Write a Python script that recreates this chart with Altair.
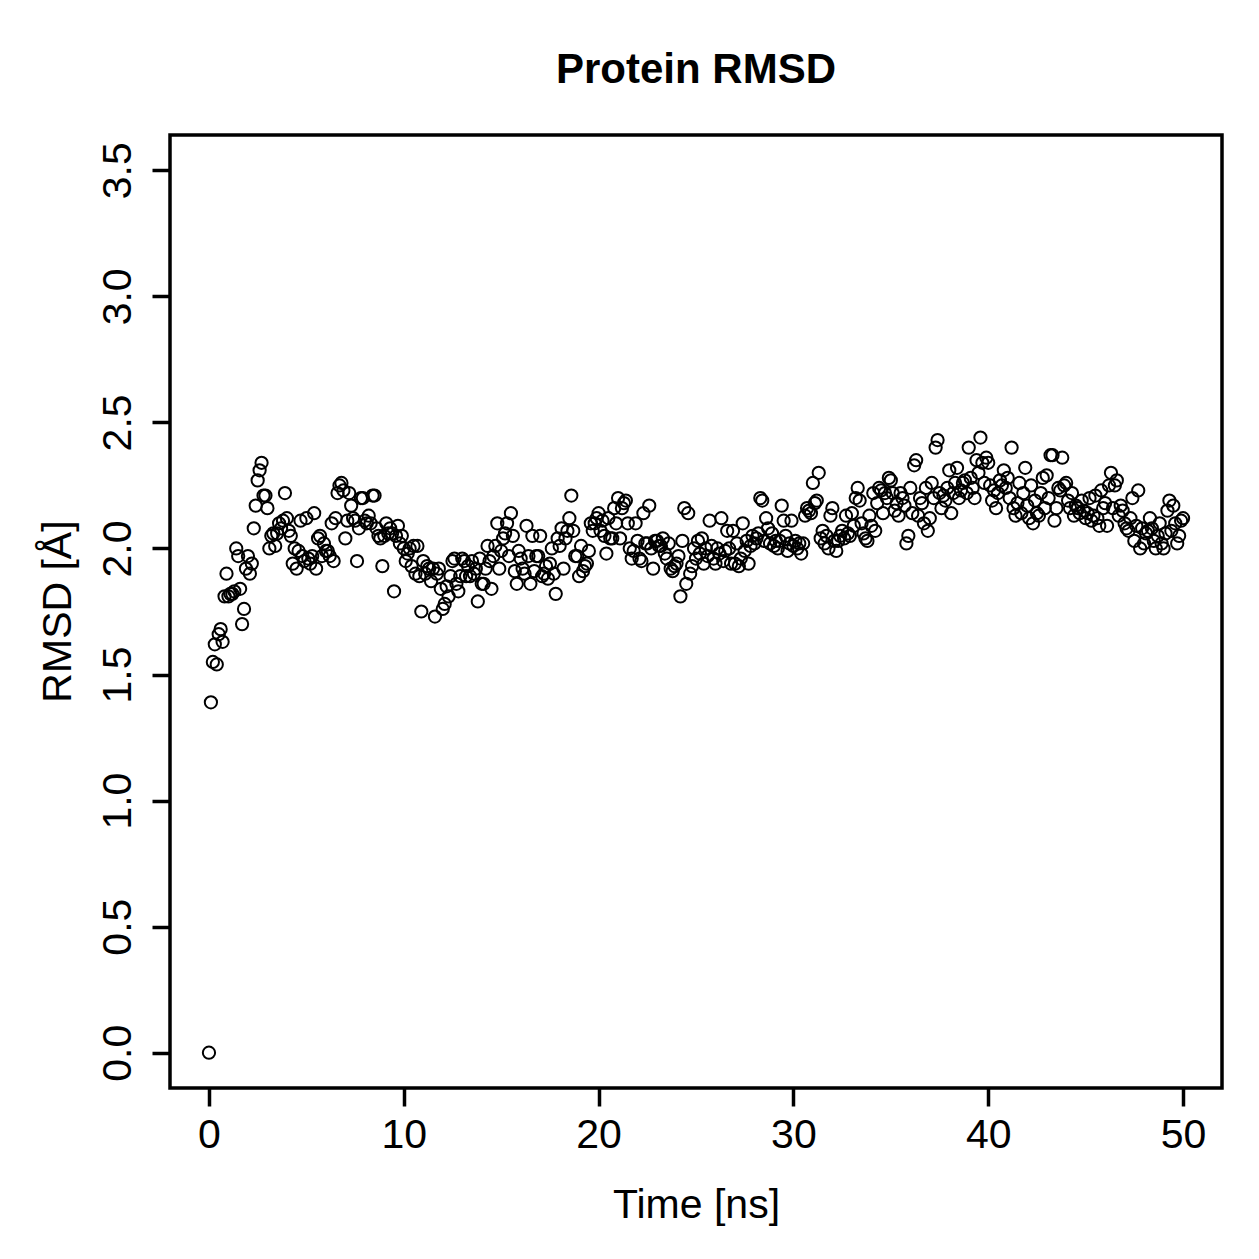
import altair as alt
import pandas as pd

rmsd_00_10 = [
    0.00, 1.39, 1.55, 1.62, 1.54, 1.66, 1.68, 1.63, 1.81, 1.90,
    1.81, 1.82, 1.82, 1.83, 2.00, 1.97, 1.84, 1.70, 1.76, 1.92,
    1.97, 1.90, 1.94, 2.08, 2.17, 2.27, 2.31, 2.34, 2.21, 2.21,
    2.16, 2.00, 2.05, 2.06, 2.01, 2.06, 2.10, 2.08, 2.11, 2.22,
    2.12, 2.07, 2.05, 1.94, 2.00, 1.92, 1.99, 2.11, 1.97, 1.95,
    2.12, 1.96, 1.94, 1.97, 2.14, 1.92, 2.04, 2.05, 1.97, 2.02,
    1.99, 1.99, 1.97, 2.10, 1.95, 2.12, 2.22, 2.25, 2.26, 2.23,
    2.04, 2.11, 2.22, 2.17, 2.12, 2.11, 1.95, 2.08, 2.20, 2.20,
    2.11, 2.10, 2.13, 2.10, 2.21, 2.21, 2.08, 2.05, 2.04, 1.93,
    2.05, 2.10, 2.06, 2.08, 2.06, 1.83, 2.05, 2.09, 2.02, 2.05,
]
rmsd_10_20 = [
    2.00, 1.95, 1.98, 2.00, 1.93, 2.01, 1.90, 2.01, 1.89, 1.75,
    1.95, 1.90, 1.93, 1.92, 1.87, 1.92, 1.73, 1.90, 1.92, 1.84,
    1.76, 1.78, 1.85, 1.81, 1.89, 1.95, 1.96, 1.86, 1.83, 1.89,
    1.96, 1.95, 1.89, 1.93, 1.89, 1.95, 1.90, 1.92, 1.79, 1.96,
    1.86, 1.86, 1.92, 2.01, 1.95, 1.84, 1.97, 2.01, 2.10, 1.92,
    1.99, 2.04, 2.06, 2.10, 1.97, 2.14, 2.05, 1.91, 1.86, 1.99,
    1.96, 1.92, 1.90, 2.09, 1.97, 1.86, 2.05, 1.91, 1.97, 1.97,
    2.05, 1.89, 1.90, 1.93, 1.88, 1.94, 2.00, 1.90, 1.82, 2.04,
    2.01, 2.08, 1.92, 2.04, 2.07, 2.12, 2.21, 2.07, 1.97, 1.97,
    1.89, 2.01, 1.91, 1.93, 1.94, 1.99, 2.10, 2.07, 2.10, 2.12,
]
rmsd_20_30 = [
    2.14, 2.07, 2.11, 2.05, 1.98, 2.12, 2.04, 2.04, 2.16, 2.10,
    2.20, 2.04, 2.16, 2.18, 2.19, 2.10, 2.00, 1.96, 1.99, 2.10,
    2.03, 1.96, 1.95, 2.14, 2.02, 2.02, 2.17, 2.00, 1.92, 2.03,
    2.03, 2.01, 2.01, 2.04, 1.98, 1.96, 2.02, 1.92, 1.91, 1.93,
    1.94, 1.97, 1.81, 2.03, 2.16, 1.86, 2.14, 1.90, 1.93, 2.00,
    1.96, 2.03, 1.98, 2.04, 1.94, 2.00, 1.97, 2.11, 2.01, 1.96,
    1.94, 2.00, 1.98, 2.12, 1.95, 1.99, 2.07, 2.00, 1.94, 2.07,
    1.94, 2.02, 1.93, 1.96, 2.10, 1.99, 2.03, 1.94, 2.01, 2.05,
    2.02, 2.04, 2.06, 2.20, 2.19, 2.03, 2.12, 2.08, 2.02, 2.06,
    2.01, 2.03, 2.00, 2.03, 2.17, 2.11, 2.05, 1.99, 2.02, 2.11,
]
rmsd_30_40 = [
    2.01, 2.03, 2.00, 2.02, 1.98, 2.02, 2.13, 2.16, 2.15, 2.14,
    2.26, 2.18, 2.19, 2.30, 2.04, 2.07, 2.02, 2.05, 2.00, 2.13,
    2.16, 2.03, 1.99, 2.03, 2.05, 2.07, 2.04, 2.13, 2.06, 2.05,
    2.14, 2.09, 2.20, 2.24, 2.19, 2.10, 2.06, 2.04, 2.03, 2.13,
    2.09, 2.22, 2.07, 2.18, 2.24, 2.23, 2.14, 2.22, 2.20, 2.28,
    2.27, 2.22, 2.15, 2.18, 2.13, 2.22, 2.20, 2.17, 2.02, 2.05,
    2.24, 2.14, 2.33, 2.35, 2.13, 2.20, 2.18, 2.10, 2.24, 2.07,
    2.12, 2.26, 2.20, 2.40, 2.43, 2.22, 2.16, 2.21, 2.19, 2.24,
    2.31, 2.14, 2.22, 2.26, 2.32, 2.20, 2.23, 2.26, 2.27, 2.22,
    2.40, 2.28, 2.24, 2.20, 2.35, 2.30, 2.44, 2.34, 2.26, 2.36,
]
rmsd_40_50 = [
    2.34, 2.25, 2.19, 2.23, 2.16, 2.22, 2.27, 2.25, 2.31, 2.24,
    2.28, 2.20, 2.40, 2.16, 2.13, 2.18, 2.26, 2.14, 2.22, 2.32,
    2.17, 2.12, 2.25, 2.10, 2.19, 2.14, 2.13, 2.22, 2.28, 2.16,
    2.29, 2.20, 2.37, 2.37, 2.11, 2.16, 2.24, 2.23, 2.36, 2.25,
    2.26, 2.19, 2.16, 2.22, 2.13, 2.17, 2.16, 2.14, 2.19, 2.15,
    2.12, 2.14, 2.20, 2.11, 2.13, 2.21, 2.12, 2.09, 2.23, 2.16,
    2.18, 2.09, 2.25, 2.30, 2.16, 2.25, 2.27, 2.13, 2.17, 2.15,
    2.10, 2.08, 2.07, 2.12, 2.20, 2.03, 2.09, 2.23, 2.00, 2.08,
    2.02, 2.06, 2.07, 2.12, 2.08, 2.03, 2.00, 2.05, 2.10, 2.02,
    2.00, 2.06, 2.15, 2.19, 2.07, 2.17, 2.10, 2.02, 2.05, 2.11,
    2.12,
]

x_ticks = [0, 10, 20, 30, 40, 50]
y_ticks = [0.0, 0.5, 1.0, 1.5, 2.0, 2.5, 3.0, 3.5]

rmsd = rmsd_00_10 + rmsd_10_20 + rmsd_20_30 + rmsd_30_40 + rmsd_40_50
time_ns = [round(i * 0.1, 1) for i in range(len(rmsd))]
df = pd.DataFrame({"time": time_ns, "rmsd": rmsd})

FONT = "Liberation Sans"

chart = (
    alt.Chart(df)
    .mark_point(shape="circle", filled=False, color="black", size=150, strokeWidth=2, opacity=1)
    .encode(
        x=alt.X(
            "time:Q",
            scale=alt.Scale(domain=[-2, 52], nice=False, zero=False),
            axis=alt.Axis(
                values=x_ticks,
                format="d",
                title="Time [ns]",
                titleX=526,
                titleY=129,
                titleBaseline="alphabetic",
                titleAlign="center",
                titleFont=FONT,
                titleFontSize=41,
                titleFontWeight="normal",
                titleColor="black",
                labelFont=FONT,
                labelFontSize=41,
                labelColor="black",
                labelPadding=9,
                labelBaseline="top",
                labelAlign="center",
                tickSize=18,
                tickWidth=3.5,
                tickColor="black",
                domain=False,
                grid=False,
                labelFlush=False,
                labelOverlap=False,
            ),
        ),
        y=alt.Y(
            "rmsd:Q",
            scale=alt.Scale(domain=[-0.14, 3.64], nice=False, zero=False),
            axis=alt.Axis(
                values=y_ticks,
                format=".1f",
                title="RMSD [Å]",
                titleX=-100,
                titleY=476,
                titleAngle=270,
                titleBaseline="alphabetic",
                titleAlign="center",
                titleFont=FONT,
                titleFontSize=41,
                titleFontWeight="normal",
                titleColor="black",
                labelFont=FONT,
                labelFontSize=41,
                labelColor="black",
                labelAngle=270,
                labelAlign="center",
                labelBaseline="alphabetic",
                labelPadding=22,
                tickSize=18,
                tickWidth=3.5,
                tickColor="black",
                domain=False,
                grid=False,
                labelFlush=False,
                labelOverlap=False,
            ),
        ),
    )
    .properties(
        width=1052,
        height=953,
        title=alt.TitleParams(
            text="Protein RMSD",
            font=FONT,
            fontSize=42,
            fontWeight="bold",
            color="black",
            anchor="middle",
            baseline="alphabetic",
            offset=10,
        ),
        autosize=alt.AutoSizeParams(type="none"),
        padding={"left": 170, "top": 135, "right": 37, "bottom": 171},
        background="white",
    )
    .configure_view(stroke="black", strokeWidth=3.5)
)

chart.save("out.html", embed_options={"renderer": "svg", "actions": False})
